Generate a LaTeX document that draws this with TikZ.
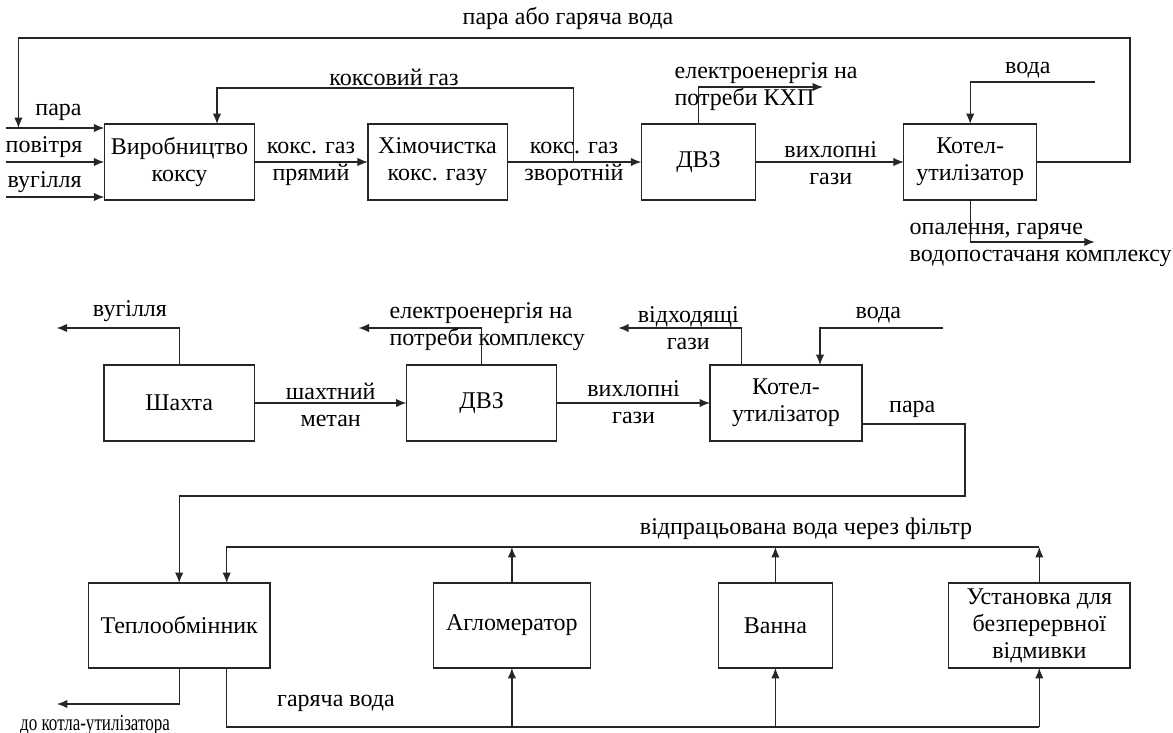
\documentclass[tikz,border=0pt]{standalone}
\usepackage{fontspec}
\setmainfont{Liberation Serif}
\newfontfamily\narrowfont[FakeStretch=0.74]{Liberation Serif}
\usetikzlibrary{
    arrows.meta,
    positioning
}

\begin{document}
\begin{tikzpicture}[
    x=0.5pt, y=-0.5pt,
    font=\fontsize{12}{13.5}\selectfont,
    line width=0.65pt,
    block/.style={
        rectangle,
        draw=black!85,
        align=center,
        inner sep=1pt,
        outer sep=0pt,
        minimum height=38pt
    },
    lowblock/.style={
        block,
        minimum height=42.5pt
    },
    arrow/.style={
        -{Latex[length=5.2pt,width=4.2pt]},
        draw=black!85
    },
    line/.style={
        draw=black!85
    },
    note/.style={
        align=center,
        inner sep=0pt
    },
    leftnote/.style={
        align=left,
        anchor=west,
        inner sep=0pt
    }
]
\useasboundingbox (0,0) rectangle (1173,733);

% =========================================================
% Coke plant line
% =========================================================
\node[block, minimum width=75.25pt] (virob) at (179.5,162)
{Виробництво\\коксу};

\node[block, minimum width=69.65pt] (khim) at (437.5,162)
{Хімочистка\\кокс. газу};

\node[block, minimum width=57.25pt] (dvzA) at (698.5,162)
{ДВЗ};

\node[block, minimum width=66.4pt] (kotelA) at (970.2,162)
{Котел-\\утилізатор};

% =========================================================
% Mine line
% =========================================================
\node[block, minimum width=75.2pt] (shakhta) at (179.3,403)
{Шахта};

\node[block, minimum width=75.2pt] (dvzB) at (481.6,403)
{ДВЗ};

\node[block, minimum width=76pt] (kotelB) at (786,403)
{Котел-\\утилізатор};

% =========================================================
% Heat users
% =========================================================
\node[lowblock, minimum width=90.85pt] (teplo) at (179.2,625.5)
{Теплообмінник};

\node[lowblock, minimum width=78.65pt] (aglo) at (511.9,625.5)
{Агломератор};

\node[lowblock, minimum width=57.2pt] (vanna) at (775.4,625.5)
{Ванна};

\node[lowblock, minimum width=90.75pt] (ustanovka) at (1039.3,625.5)
{Установка для\\безперервної\\відмивки};

% =========================================================
% Free ends and bends
% =========================================================
\coordinate (inPara) at (6,128);
\coordinate (inPov) at (6,162);
\coordinate (inVug) at (6,197);
\coordinate (loopR) at (1130,38);
\coordinate (loopL) at (18.4,38);
\coordinate (cgTap) at (573.7,162);
\coordinate (cgTop) at (217,88);
\coordinate (elecOutA) at (823,87);
\coordinate (vodaInA) at (1094.7,82);
\coordinate (opalOut) at (1094.7,242);

\coordinate (vugOut) at (56.6,328);
\coordinate (elecOutB) at (358.6,328);
\coordinate (gasTop) at (741.5,328);
\coordinate (gasOut) at (618.3,328);
\coordinate (vodaInB) at (943.3,328);
\coordinate (vodaTop) at (820,328);
\coordinate (paraR) at (965,424);
\coordinate (paraBend) at (965,496);

\coordinate (filtR) at (1039.3,547);
\coordinate (filtL) at (226.7,547);
\coordinate (hotL) at (226.7,727);
\coordinate (hotR) at (1039.3,727);
\coordinate (doKotla) at (57,704);

% =========================================================
% Coke plant connectors
% =========================================================
\draw[arrow] (inPara) -- (inPara -| virob.west);
\draw[arrow] (inPov) -- (inPov -| virob.west);
\draw[arrow] (inVug) -- (inVug -| virob.west);

\draw[arrow] (kotelA.east) -| (loopR) -- (loopL) -- (loopL |- inPara);

\draw[arrow] (virob) -- (khim);
\draw[arrow] (khim) -- (dvzA);
\draw[arrow] (cgTap) |- (cgTop) -- (cgTop |- virob.north);

\draw[arrow] (dvzA.north) |- (elecOutA);
\draw[arrow] (dvzA) -- (kotelA);
\draw[arrow] (vodaInA) -| (kotelA.north);
\draw[arrow] (kotelA.south) |- (opalOut);

% =========================================================
% Mine connectors
% =========================================================
\draw[arrow] (shakhta.north) |- (vugOut);
\draw[arrow] (shakhta) -- (dvzB);
\draw[arrow] (dvzB.north) |- (elecOutB);
\draw[arrow] (dvzB) -- (kotelB);
\draw[arrow] (gasTop |- kotelB.north) -- (gasTop) -- (gasOut);
\draw[arrow] (vodaInB) -- (vodaTop) -- (vodaTop |- kotelB.north);
\draw[arrow] (paraR -| kotelB.east) -- (paraR) -- (paraBend) -| (teplo.north);

% =========================================================
% Heat user connectors
% =========================================================
\draw[arrow] (ustanovka.north) -- (filtR);
\draw[arrow] (vanna.north) -- (vanna.north |- filtR);
\draw[arrow] (aglo.north) -- (aglo.north |- filtR);
\draw[arrow] (filtR) -- (filtL) -- (filtL |- teplo.north);

\draw[line] (hotL |- teplo.south) -- (hotL) -- (hotR);
\draw[arrow] (hotR) -- (ustanovka.south);
\draw[arrow] (vanna.south |- hotR) -- (vanna.south);
\draw[arrow] (aglo.south |- hotR) -- (aglo.south);
\draw[arrow] (teplo.south) |- (doKotla);

% =========================================================
% Labels
% =========================================================
\node[note] (lblLoop) at (568,18) {пара або гаряча вода};
\node[note] (lblPara) at (58.5,112) {пара};
\node[note] (lblPov) at (44,147) {повітря};
\node[note] (lblVug) at (44.7,182) {вугілля};
\node[note] (lblKoksGas) at (394,77) {коксовий газ};
\node[note] (lblPryam) at (311,163.5) {кокс. газ\\прямий};
\node[note] (lblZvor) at (574,163.5) {кокс. газ\\зворотній};
\node[leftnote] (lblElecA) at (674,86.5) {електроенергія на\\потреби КХП};
\node[note] (lblVykhA) at (830.7,163.5) {вихлопні\\гази};
\node[note] (lblVodaA) at (1027.8,70) {вода};
\node[leftnote] (lblOpal) at (909,244.5) {опалення, гаряче\\водопостачаня комплексу};

\node[note] (lblVugB) at (130,311) {вугілля};
\node[note] (lblShakh) at (330.7,405) {шахтний\\метан};
\node[leftnote] (lblElecB) at (389,326.5) {електроенергія на\\потреби комплексу};
\node[note] (lblVykhB) at (633.6,402.5) {вихлопні\\гази};
\node[note] (lblVidkh) at (688.3,328) {відходящі\\гази};
\node[note] (lblVodaB) at (878.3,315) {вода};
\node[note] (lblParaB) at (912.3,409) {пара};

\node[note] (lblFilter) at (806,529) {відпрацьована вода через фільтр};
\node[note] (lblHot) at (336,703) {гаряча вода};
\node[note, font=\narrowfont\fontsize{11.5}{13}\selectfont] (lblDoKotla) at (95,725) {до котла-утилізатора};

\end{tikzpicture}
\end{document}
